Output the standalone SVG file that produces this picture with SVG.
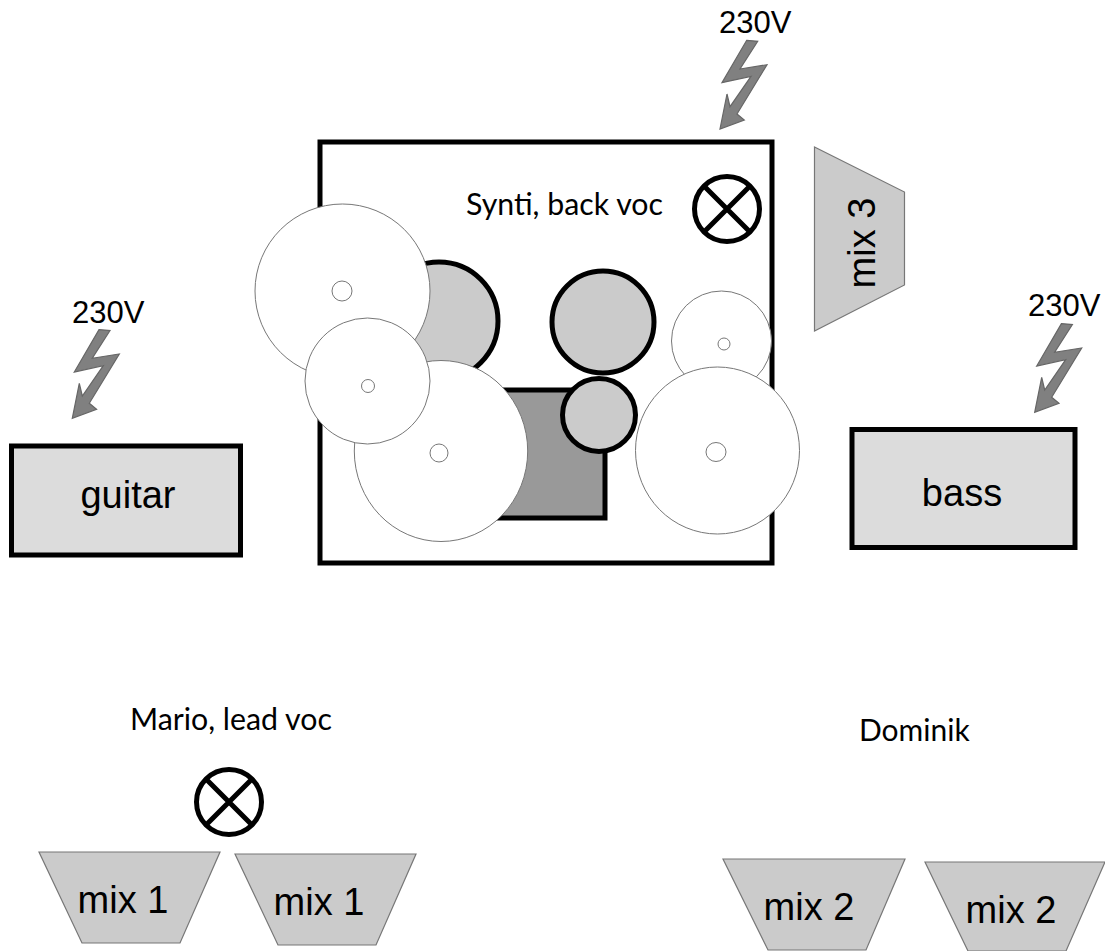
<svg xmlns="http://www.w3.org/2000/svg" width="1105" height="951" viewBox="0 0 1105 951">
<defs>
<polygon id="bolt-shape" points="26.700,-88.700 37.700,-87.700 20,-60 47,-64.300 17,-15 24.300,-9 0,0 7,-35 10,-22.300 31,-52.700 2,-46.300"/>
<g id="lamp-shape"><circle r="32.500" fill="#fff" stroke="#000" stroke-width="5"/><path d="M-23-23 23 23M23-23-23 23" stroke="#000" stroke-width="5" fill="none"/></g>
</defs>
<style>
.sans{font-family:"Liberation Sans",Arial,sans-serif;fill:#000}
.open{font-family:"Lato","Open Sans",sans-serif;fill:#000;font-size:30.300px}
.v{font-size:31px}
.m{font-size:38px;text-anchor:middle}
.amp{fill:#dcdcdc;stroke:#000;stroke-width:5}
.bolt{fill:#808080;stroke:#666;stroke-width:1.200}
.wedge{fill:#cbcbcb;stroke:#777;stroke-width:1.200}
.drum{fill:#cbcbcb;stroke:#000;stroke-width:5}
.cym{fill:#fff;stroke:#777;stroke-width:1}
</style>
<rect width="1105" height="951" fill="#fff"/>
<g id="riser"><rect x="320" y="142" width="452" height="421" fill="#fff" stroke="#000" stroke-width="5"/></g>
<g id="synti-label"><text class="open" x="466" y="215">Synti, back voc</text></g>
<g id="lamp-top"><use href="#lamp-shape" x="727" y="209"/></g>
<g id="drums">
<circle class="drum" cx="439" cy="321" r="59"/>
<circle class="drum" cx="603" cy="322" r="51"/>
<rect x="479" y="390" width="126" height="128" fill="#999" stroke="#000" stroke-width="5"/>
<circle class="drum" cx="599" cy="415" r="36.500"/>
</g>
<g id="cymbals">
<g id="cymbal-1"><ellipse class="cym" cx="342.500" cy="291" rx="87.500" ry="87"/><circle class="cym" cx="342" cy="291" r="10"/></g>
<g id="cymbal-3"><ellipse class="cym" cx="441" cy="451" rx="86.700" ry="90.500"/><circle class="cym" cx="439" cy="453" r="9"/></g>
<g id="cymbal-2"><ellipse class="cym" cx="367.500" cy="381" rx="62.500" ry="63"/><circle class="cym" cx="368" cy="386" r="6.500"/></g>
<g id="cymbal-4"><circle class="cym" cx="721.500" cy="341" r="50"/><circle class="cym" cx="724" cy="344" r="6"/></g>
<g id="cymbal-5"><ellipse class="cym" cx="717.500" cy="450.500" rx="82" ry="83.500"/><ellipse class="cym" cx="716" cy="452" rx="10" ry="9.500"/></g>
</g>
<g id="mix3"><polygon class="wedge" points="814.500,147 904.500,192 904.500,285 814.500,331"/><text class="sans m" transform="translate(875 243) rotate(-90)">mix 3</text></g>
<g id="power-top"><text class="sans v" x="719" y="33">230V</text><use href="#bolt-shape" class="bolt" x="720" y="129"/></g>
<g id="power-guitar"><text class="sans v" x="72" y="323">230V</text><use href="#bolt-shape" class="bolt" x="72.300" y="418.300"/></g>
<g id="power-bass"><text class="sans v" x="1028" y="316">230V</text><use href="#bolt-shape" class="bolt" x="1034.700" y="412.300"/></g>
<g id="guitar"><rect class="amp" x="11.500" y="446" width="229" height="109"/><text class="sans m" x="128" y="508">guitar</text></g>
<g id="bass"><rect class="amp" x="852" y="429.500" width="223" height="118"/><text class="sans m" x="962" y="506">bass</text></g>
<g id="mario-label"><text class="open" x="130" y="730">Mario, lead voc</text></g>
<g id="dominik-label"><text class="open" x="859" y="741" style="font-size:30px">Dominik</text></g>
<g id="lamp-bottom"><use href="#lamp-shape" x="229" y="802"/></g>
<g id="mix1-left"><polygon class="wedge" points="39,852 220,852 180,943 82,943"/><text class="sans m" x="123" y="913">mix 1</text></g>
<g id="mix1-right"><polygon class="wedge" points="235,854 416,854 376,945 278,945"/><text class="sans m" x="319" y="915">mix 1</text></g>
<g id="mix2-left"><polygon class="wedge" points="723,859 905,859 866,950 768,950"/><text class="sans m" x="809" y="920">mix 2</text></g>
<g id="mix2-right"><polygon class="wedge" points="925,862 1105,862 1066,951 968,951"/><text class="sans m" x="1011" y="923">mix 2</text></g>
</svg>
